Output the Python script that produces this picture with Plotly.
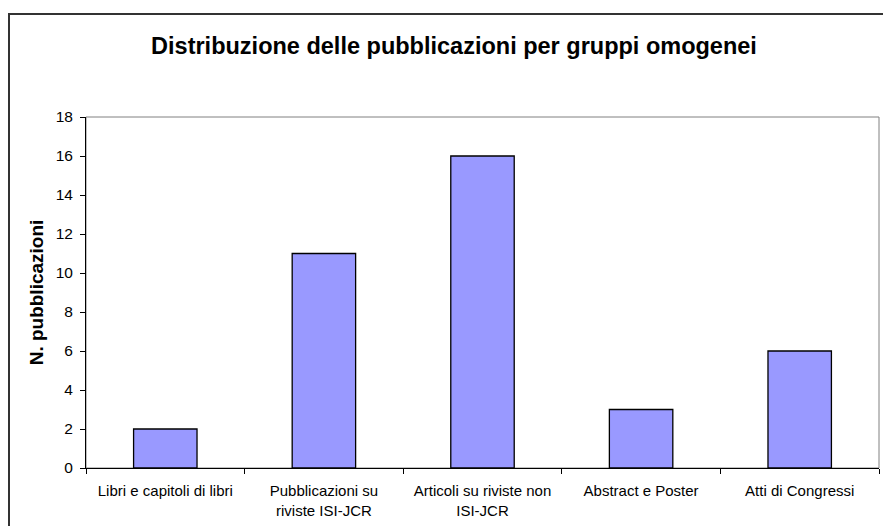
import plotly.graph_objects as go

categories = ["Libri e capitoli di libri", "Pubblicazioni su<br>riviste ISI-JCR",
              "Articoli su riviste non<br>ISI-JCR", "Abstract e Poster", "Atti di Congressi"]
values = [2, 11, 16, 3, 6]
y_ticks = [0, 2, 4, 6, 8, 10, 12, 14, 16, 18]

W, H = 883, 526
L, R, T, B = 86, 4, 117, 58
pw, ph = W - L - R, H - T - B

fig = go.Figure(go.Bar(
    x=categories, y=values,
    marker=dict(color="#9999FF", line=dict(color="#000000", width=1.3)),
    width=0.4,
))

fig.update_layout(
    width=W, height=H,
    margin=dict(l=L, r=R, t=T, b=B),
    paper_bgcolor="white", plot_bgcolor="white",
    font=dict(family="Liberation Sans, Arial, sans-serif", size=15, color="black"),
    showlegend=False,
    title=dict(text="<b>Distribuzione delle pubblicazioni per gruppi omogenei</b>",
               x=454 / W, xanchor="center", y=1 - 46 / H, yanchor="middle",
               font=dict(size=23.5, color="black")),
    xaxis=dict(type="category", showline=True, linecolor="black", linewidth=1,
               ticks="outside", tickson="boundaries", ticklen=5, tickcolor="black",
               showgrid=False, zeroline=False, tickfont=dict(size=15),
               ticklabelstandoff=9),
    yaxis=dict(range=[0, 18], tickvals=y_ticks, showline=True, linecolor="black",
               linewidth=1, ticks="outside", ticklen=5, tickcolor="black",
               showgrid=False, zeroline=False, tickfont=dict(size=15.5),
               ticklabelstandoff=4,
               title=dict(text="<b>N. pubblicazioni</b>", font=dict(size=19), standoff=7)),
    shapes=[
        dict(type="rect", xref="paper", yref="paper", x0=0, x1=1, y0=0, y1=1,
             line=dict(color="#808080", width=1), layer="below"),
        dict(type="rect", xref="paper", yref="paper",
             x0=(9 - L) / pw, x1=(W + 6 - L) / pw,
             y0=(H - B - (H + 6)) / ph, y1=(H - B - 14) / ph,
             line=dict(color="#333333", width=2)),
    ],
)

fig.write_html("out.html", config={"displayModeBar": False},
               post_script="document.body.style.margin='0';")
